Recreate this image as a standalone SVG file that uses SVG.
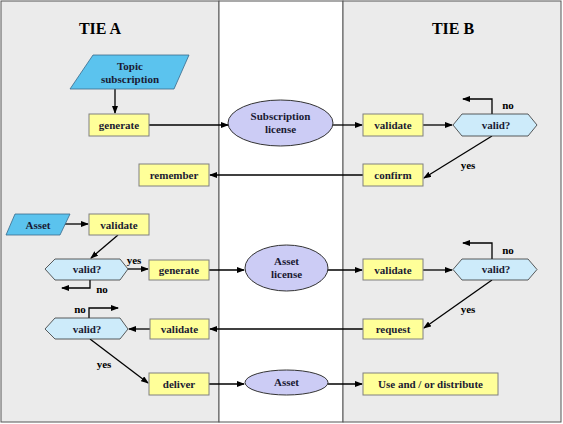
<svg xmlns="http://www.w3.org/2000/svg" width="563" height="424" viewBox="0 0 563 424">
<defs>
<marker id="ah" markerWidth="8" markerHeight="6" refX="7" refY="3" orient="auto" markerUnits="userSpaceOnUse">
<path d="M0,0 L8,3 L0,6 z" fill="#000"/>
</marker>
<style>
text{font-family:"Liberation Serif","Times New Roman",serif;font-weight:bold;font-size:11px;fill:#1a1a33;text-anchor:middle}
.title{font-size:16px;fill:#000}
.box{fill:#FFFF99;stroke:#808080;stroke-width:1}
.para{fill:#5BC3EE;stroke:#3a6a8a;stroke-width:0.8}
.ell{fill:#CCCCF5;stroke:#333;stroke-width:1}
.hex{fill:#CDEBFA;stroke:#333;stroke-width:0.8}
.c{fill:none;stroke:#000;stroke-width:1.3;marker-end:url(#ah)}
.lbl{fill:#000}
</style>
</defs>
<rect x="0" y="0" width="563" height="424" fill="#fff"/>
<rect x="1" y="1" width="218" height="421" fill="#EBEBEB" stroke="#555" stroke-width="1"/>
<rect x="219" y="1" width="124" height="421" fill="#fff" stroke="#555" stroke-width="1"/>
<rect x="343" y="1" width="218" height="421" fill="#EBEBEB" stroke="#555" stroke-width="1"/>
<text class="title" x="100" y="34">TIE A</text>
<text class="title" x="453" y="34">TIE B</text>

<g id="connectors">
<path class="c" d="M115,89 V113" stroke-width="2"/>
<path class="c" d="M149,125 H228"/>
<path class="c" d="M333,125 H362"/>
<path class="c" d="M423,125 H452"/>
<path class="c" d="M492,114 V99 H463"/>
<path class="c" d="M492,136 L424,178"/>
<path class="c" d="M363,175 H210"/>
<path class="c" d="M61,224 H88"/>
<path class="c" d="M118,235 L91,258"/>
<path class="c" d="M128,269 H148"/>
<path class="c" d="M90,280 V288 H62"/>
<path class="c" d="M209,270 H244"/>
<path class="c" d="M328,270 H362"/>
<path class="c" d="M423,270 H452"/>
<path class="c" d="M492,259 V243 H463"/>
<path class="c" d="M492,280 L424,328"/>
<path class="c" d="M363,329 H210"/>
<path class="c" d="M150,329 H129"/>
<path class="c" d="M89,318 V308 H118"/>
<path class="c" d="M90,339 L148,383"/>
<path class="c" d="M209,384 H244"/>
<path class="c" d="M328,384 H362"/>
<text class="lbl" x="508" y="109">no</text>
<text class="lbl" x="468" y="169">yes</text>
<text class="lbl" x="134" y="264">yes</text>
<text class="lbl" x="102" y="293">no</text>
<text class="lbl" x="508" y="254">no</text>
<text class="lbl" x="468" y="313">yes</text>
<text class="lbl" x="80" y="313">no</text>
<text class="lbl" x="104" y="368">yes</text>
</g>

<g id="topic-subscription">
<polygon class="para" points="93,55 189,55 174,89 70,89"/>
<text x="130" y="70">Topic</text>
<text x="130" y="83">subscription</text>
</g>
<g id="generate-a1"><rect class="box" x="89" y="114" width="60" height="22"/><text x="119" y="129">generate</text></g>
<g id="subscription-license">
<ellipse class="ell" cx="280.5" cy="123" rx="52.5" ry="23"/>
<text x="280.5" y="120">Subscription</text>
<text x="280.5" y="133">license</text>
</g>
<g id="validate-b1"><rect class="box" x="363" y="114" width="60" height="22"/><text x="393" y="129">validate</text></g>
<g id="valid-b1"><polygon class="hex" points="453,125 462,114 528,114 537,125 528,136 462,136"/><text x="496" y="129">valid?</text></g>
<g id="confirm"><rect class="box" x="363" y="164" width="60" height="22"/><text x="393" y="179">confirm</text></g>
<g id="remember"><rect class="box" x="139" y="164" width="70" height="22"/><text x="174" y="179">remember</text></g>

<g id="asset-input">
<polygon class="para" points="15,214 70,214 60,235 6,235"/>
<text x="38" y="229">Asset</text>
</g>
<g id="validate-a1"><rect class="box" x="89" y="214" width="60" height="21"/><text x="119" y="229">validate</text></g>
<g id="valid-a1"><polygon class="hex" points="45,269 55,259 120,259 128,269 120,280 55,280"/><text x="87" y="273">valid?</text></g>
<g id="generate-a2"><rect class="box" x="149" y="260" width="60" height="20"/><text x="179" y="274">generate</text></g>
<g id="asset-license">
<ellipse class="ell" cx="286.5" cy="268" rx="41.5" ry="23"/>
<text x="286.5" y="265">Asset</text>
<text x="286.5" y="278">license</text>
</g>
<g id="validate-b2"><rect class="box" x="363" y="259" width="60" height="21"/><text x="393" y="274">validate</text></g>
<g id="valid-b2"><polygon class="hex" points="453,269.5 462,259 528,259 537,269.5 528,280 462,280"/><text x="496" y="273">valid?</text></g>
<g id="request"><rect class="box" x="363" y="319" width="60" height="20"/><text x="393" y="333">request</text></g>
<g id="validate-a2"><rect class="box" x="150" y="319" width="59" height="20"/><text x="179.5" y="333">validate</text></g>
<g id="valid-a2"><polygon class="hex" points="45,329 55,318 120,318 128,329 120,339 55,339"/><text x="87" y="333">valid?</text></g>
<g id="deliver"><rect class="box" x="149" y="373" width="60" height="22"/><text x="179" y="388">deliver</text></g>
<g id="asset"><ellipse class="ell" cx="286.5" cy="382.5" rx="41.5" ry="12.5"/><text x="286.5" y="386">Asset</text></g>
<g id="use-distribute"><rect class="box" x="363" y="373" width="135" height="22"/><text x="430.5" y="388">Use and / or distribute</text></g>
</svg>
